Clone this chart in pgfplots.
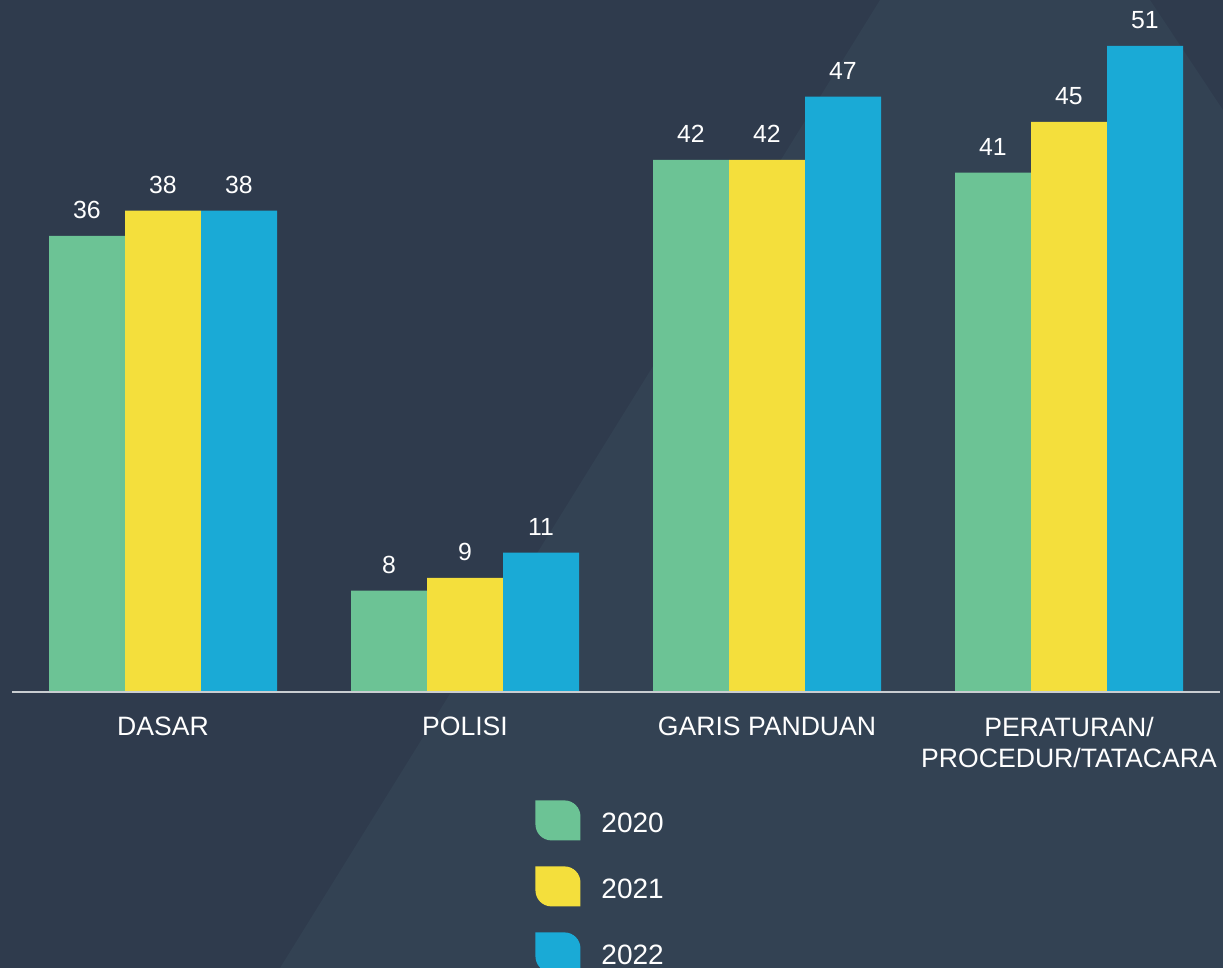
\documentclass[border=0pt]{standalone}
\usepackage{fontspec}
\setmainfont{Liberation Sans}
\usepackage{pgfplots}
\pgfplotsset{compat=1.18}
\definecolor{bgdark}{HTML}{2F3B4D}
\definecolor{bglight}{HTML}{334253}
\definecolor{cgreen}{HTML}{6CC395}
\definecolor{cyellow}{HTML}{F4DF3C}
\definecolor{cblue}{HTML}{1AAAD6}
\definecolor{axisgray}{HTML}{C9CDD1}
\pgfplotsset{
  leaf legend/.style={legend image code/.code={%
    \fill[##1] (0pt,12pt) -- (14.5pt,12pt) arc[start angle=90,end angle=0,radius=8pt]
      -- (22.5pt,-8pt) -- (8pt,-8pt) arc[start angle=270,end angle=180,radius=8pt] -- cycle;}}
}
\begin{document}
\begin{tikzpicture}
\fill[bgdark] (0,0) rectangle (611.5pt,484pt);
\fill[bglight] (440pt,484pt) -- (575pt,484pt) -- (611.5pt,429pt) -- (611.5pt,0pt) -- (140pt,0pt) -- cycle;
\begin{axis}[
  at={(6pt,138pt)}, anchor=south west,
  scale only axis, width=604pt, height=346pt,
  xmin=-0.5, xmax=3.5, ymin=0, ymax=54.63,
  ybar=0pt, bar width=38pt,
  axis x line*=bottom, axis y line=none,
  x axis line style={axisgray, line width=1pt, -},
  axis on top, clip=false,
  /pgf/number format/assume math mode=true,
  xtick={0,1,2,3},
  xticklabels={DASAR,POLISI,GARIS PANDUAN,{PERATURAN/\\PROCEDUR/TATACARA}},
  major tick length=0pt,
  xticklabel style={text=white, anchor=north, inner sep=0pt, yshift=-12.5pt, align=center,
    font=\fontsize{13.3}{15.6}\selectfont},
  ytick=\empty,
  nodes near coords,
  every node near coord/.append style={text=white, inner sep=0pt, anchor=south, yshift=8.5pt,
    font=\fontsize{12.4}{15}\selectfont},
  legend style={at={(axis description cs:0.433,-0.1561)}, anchor=north west,
    draw=none, fill=none, text=white, inner sep=0pt, row sep=13pt, column sep=10.5pt,
    nodes={inner sep=0pt}, font=\fontsize{14}{16}\selectfont},
  legend cell align=left,
]
\addplot[fill=cgreen, draw=none, leaf legend] coordinates {(0,36) (1,8) (2,42) (3,41)};
\addplot[fill=cyellow, draw=none, leaf legend] coordinates {(0,38) (1,9) (2,42) (3,45)};
\addplot[fill=cblue, draw=none, leaf legend] coordinates {(0,38) (1,11) (2,47) (3,51)};
\legend{2020,2021,2022}
\end{axis}
\pgfresetboundingbox
\path (0,0) rectangle (611.5pt,484pt);
\end{tikzpicture}
\end{document}
